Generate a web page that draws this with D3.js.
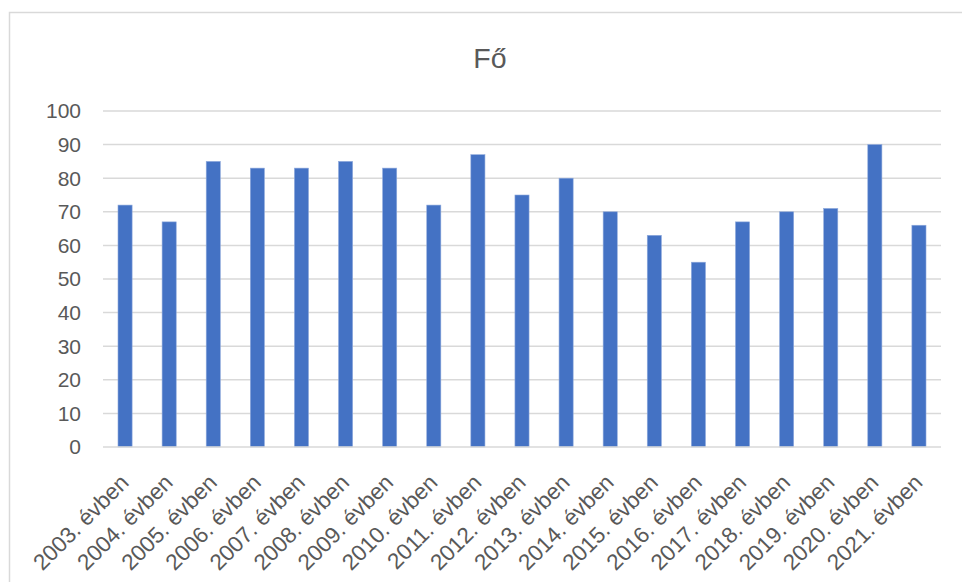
<!DOCTYPE html>
<html>
<head>
<meta charset="utf-8">
<script src="https://cdn.jsdelivr.net/npm/d3@7/dist/d3.min.js"></script>
<style>
  html, body { margin: 0; padding: 0; background: #fff; }
  svg { display: block; }
</style>
</head>
<body>
<svg id="chart" width="962" height="582"></svg>
<script>
const categories = ["2003. évben","2004. évben","2005. évben","2006. évben","2007. évben","2008. évben","2009. évben","2010. évben","2011. évben","2012. évben","2013. évben","2014. évben","2015. évben","2016. évben","2017. évben","2018. évben","2019. évben","2020. évben","2021. évben"];
const values = [72, 67, 85, 83, 83, 85, 83, 72, 87, 75, 80, 70, 63, 55, 67, 70, 71, 90, 66];
const yTicks = [0, 10, 20, 30, 40, 50, 60, 70, 80, 90, 100];
const title = "Fő";

const svg = d3.select("#chart");
const font = "'Liberation Sans', Arial, sans-serif";
const textColor = "#595959";

// chart border (cropped at right and bottom)
svg.append("rect")
  .attr("x", 9.5).attr("y", 12.5)
  .attr("width", 980).attr("height", 600)
  .attr("fill", "#fff").attr("stroke", "#d9d9d9").attr("stroke-width", 1.5);

const plot = { left: 103, right: 941, top: 111, bottom: 447 };

const x = d3.scaleBand().domain(categories).range([plot.left, plot.right]).paddingInner(0.68).paddingOuter(0.34);
const y = d3.scaleLinear().domain([0, 100]).range([plot.bottom, plot.top]);

// gridlines
svg.append("g").selectAll("line").data(yTicks.filter(d => d > 0)).join("line")
  .attr("x1", plot.left).attr("x2", plot.right)
  .attr("y1", d => y(d)).attr("y2", d => y(d))
  .attr("stroke", "#d9d9d9").attr("stroke-width", 1.5);

// y tick labels
svg.append("g").selectAll("text").data(yTicks).join("text")
  .attr("x", 81).attr("y", d => y(d))
  .attr("dy", "0.35em")
  .attr("text-anchor", "end")
  .attr("font-family", font).attr("font-size", 21)
  .attr("fill", textColor)
  .text(d => d);

// bars
svg.append("g").selectAll("rect").data(values).join("rect")
  .attr("x", (d, i) => x(categories[i]))
  .attr("y", d => y(d))
  .attr("width", x.bandwidth())
  .attr("height", d => y(0) - y(d))
  .attr("fill", "#4472c4")
  .attr("stroke", "#8faadc").attr("stroke-width", 0.6);

// x axis line
svg.append("line")
  .attr("x1", plot.left).attr("x2", plot.right)
  .attr("y1", y(0)).attr("y2", y(0))
  .attr("stroke", "#d9d9d9").attr("stroke-width", 1.5);

// x labels rotated
svg.append("g").selectAll("text").data(categories).join("text")
  .attr("transform", d => `translate(${x(d) + x.bandwidth() / 2 + 5},${plot.bottom + 37}) rotate(-45)`)
  .attr("text-anchor", "end")
  .attr("font-family", font).attr("font-size", 22.5)
  .attr("fill", textColor)
  .text(d => d);

// title
svg.append("text")
  .attr("x", 490).attr("y", 68)
  .attr("text-anchor", "middle")
  .attr("font-family", font).attr("font-size", 28.5)
  .attr("fill", textColor)
  .text(title);
</script>
</body>
</html>
